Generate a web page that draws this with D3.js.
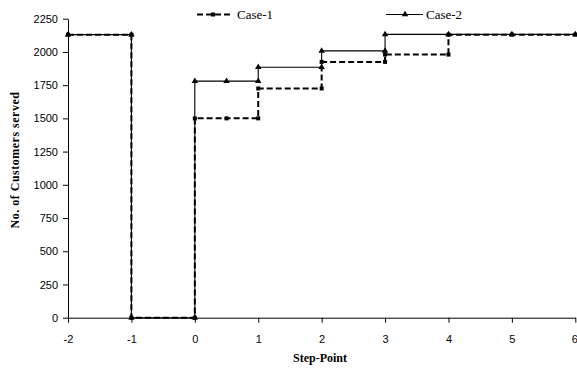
<!DOCTYPE html>
<html><head><meta charset="utf-8">
<script src="https://cdn.jsdelivr.net/npm/d3@7"></script>
<style>body{margin:0;background:#fff}svg{display:block}</style>
</head><body><svg id="c" width="577" height="370"></svg>
<script>
const xTicks = [-2,-1,0,1,2,3,4,5,6];
const yTicks = [0,250,500,750,1000,1250,1500,1750,2000,2250];
const seriesNames = ["Case-1","Case-2"];
const case1X = [-2,-1,-1,0,0,0.5,1,1,2,2,3,3,4,4,5,6];
const case1Y = [2130,2130,0,0,1500,1500,1500,1725,1725,1925,1925,1980,1980,2130,2130,2130];
const case2X = [-2,-1,-1,0,0,0.5,1,1,2,2,3,3,4,5,6];
const case2Y = [2130,2130,0,0,1780,1780,1780,1885,1885,2008,2008,2132,2132,2132,2132];

const svg = d3.select("#c");
const x = d3.scaleLinear().domain([-2,6]).range([68,575.3]);
const y = d3.scaleLinear().domain([0,2250]).range([317.7,18.7]);

const xAxis = svg.append("g").attr("transform","translate(0,317.7)")
  .call(d3.axisBottom(x).tickValues(xTicks).tickSize(5).tickSizeOuter(0).tickFormat(d=>String(d)));
const yAxis = svg.append("g").attr("transform","translate(68,0)")
  .call(d3.axisLeft(y).tickValues(yTicks).tickSize(5).tickSizeOuter(0).tickFormat(d=>String(d)));
[xAxis,yAxis].forEach(g=>{
  g.selectAll("path,line").attr("stroke","#000").attr("stroke-width",1);
  g.selectAll("text").attr("font-family","Liberation Sans, Arial, sans-serif").attr("font-size",11).attr("fill","#000");
});
xAxis.selectAll("text").attr("dy","1.55em");
xAxis.selectAll("text").filter(d=>d===6).attr("dx","-1");
yAxis.selectAll("text").attr("dx","-2");

const line = d3.line().x(d=>x(d[0])).y(d=>y(d[1]));
const d1 = case1X.map((v,i)=>[v,case1Y[i]]);
const d2 = case2X.map((v,i)=>[v,case2Y[i]]);

svg.append("path").attr("d",line(d2)).attr("fill","none").attr("stroke","#000").attr("stroke-width",1.1);
svg.append("path").attr("d",line(d1)).attr("fill","none").attr("stroke","#000").attr("stroke-width",2).attr("stroke-dasharray","6,3");

const tri = d3.symbol().type(d3.symbolTriangle).size(18);
svg.append("g").selectAll("path").data(d2).join("path")
  .attr("d",tri).attr("transform",d=>`translate(${x(d[0])},${y(d[1])})`).attr("fill","#000");
svg.append("g").selectAll("rect").data(d1).join("rect")
  .attr("x",d=>x(d[0])-2).attr("y",d=>y(d[1])-2).attr("width",4).attr("height",4).attr("fill","#000");

// legend
const lg = svg.append("g");
lg.append("line").attr("x1",197).attr("x2",233).attr("y1",14.5).attr("y2",14.5).attr("stroke","#000").attr("stroke-width",2).attr("stroke-dasharray","6,3");
lg.append("rect").attr("x",211).attr("y",12.5).attr("width",4).attr("height",4).attr("fill","#000");
lg.append("text").attr("x",237).attr("y",19).text(seriesNames[0]).attr("font-family","Liberation Serif, Times New Roman, serif").attr("font-size",13);
lg.append("line").attr("x1",386).attr("x2",423).attr("y1",14.5).attr("y2",14.5).attr("stroke","#000").attr("stroke-width",1.1);
lg.append("path").attr("d",tri).attr("transform","translate(405,14.5)");
lg.append("text").attr("x",426).attr("y",19).text(seriesNames[1]).attr("font-family","Liberation Serif, Times New Roman, serif").attr("font-size",13);

svg.append("text").attr("x",320).attr("y",362).attr("text-anchor","middle")
  .attr("font-family","Liberation Serif, Times New Roman, serif").attr("font-weight","bold").attr("font-size",12)
  .text("Step-Point");
svg.append("text").attr("transform","translate(19,160) rotate(-90)").attr("text-anchor","middle")
  .attr("font-family","Liberation Serif, Times New Roman, serif").attr("font-weight","bold").attr("font-size",12)
  .attr("letter-spacing","0.5")
  .text("No. of Customers served");
</script></body></html>
